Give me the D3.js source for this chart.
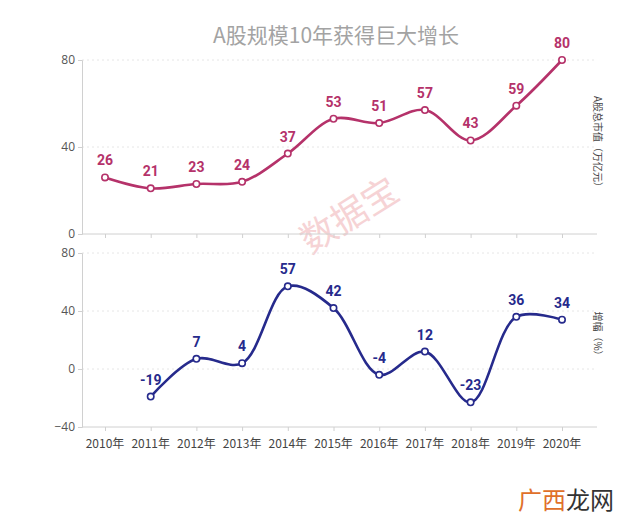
<!DOCTYPE html>
<html>
<head>
<meta charset="utf-8">
<script src="https://cdn.jsdelivr.net/npm/d3@7"></script>
<style>
  body { margin: 0; background: #fff; }
  svg { display: block; font-family: "Noto Sans CJK SC", "Noto Sans", sans-serif; }
</style>
</head>
<body>
<svg id="chart" width="640" height="527"></svg>
<script>
// data
const years = ["2010年", "2011年", "2012年", "2013年", "2014年", "2015年", "2016年", "2017年", "2018年", "2019年", "2020年"];
const marketCap = [26, 21, 23, 24, 37, 53, 51, 57, 43, 59, 80];
const growth = [null, -19, 7, 4, 57, 42, -4, 12, -23, 36, 34];
const topTicks = [0, 40, 80];
const bottomTicks = [-40, 0, 40, 80];

const svg = d3.select("#chart"),
  left = 82,
  right = 597;

const x = d3.scalePoint().domain(years).range([105, 562]);
const yTop = d3.scaleLinear().domain([0, 80]).range([234, 60]);
const yBot = d3.scaleLinear().domain([-40, 80]).range([427, 253]);

// title
svg.append("text")
  .attr("x", 336).attr("y", 43)
  .attr("text-anchor", "middle")
  .attr("fill", "#a3a3a3")
  .style("font-size", "21px")
  .text("A股规模10年获得巨大增长");

// watermark
svg.append("text")
  .attr("transform", "translate(356,226) rotate(-32)")
  .attr("text-anchor", "middle")
  .attr("fill", "#f6d3d5")
  .style("font-size", "36px")
  .text("数据宝");

function panel(yScale, ticks, values, color, label, labelY) {
  const g = svg.append("g");

  // dotted grid
  g.selectAll("line.grid")
    .data(ticks.slice(1))
    .enter().append("line")
    .attr("x1", left).attr("x2", right)
    .attr("y1", d => yScale(d)).attr("y2", d => yScale(d))
    .attr("stroke", "#e6e6e6")
    .attr("stroke-dasharray", "2,3");

  // y axis
  const yAxis = d3.axisLeft(yScale).tickValues(ticks).tickSize(4).tickPadding(3);
  g.append("g")
    .attr("transform", `translate(${left},0)`)
    .call(yAxis)
    .call(a => a.select(".domain").attr("stroke", "#d0d0d0"))
    .call(a => a.selectAll(".tick line").attr("stroke", "#d0d0d0"))
    .call(a => a.selectAll(".tick text")
      .attr("fill", "#555")
      .style("font-family", "'Open Sans', sans-serif")
      .style("font-size", "12px"));

  // x axis at bottom of panel
  const base = yScale.range()[0];
  g.append("g")
    .attr("transform", `translate(0,${base})`)
    .call(d3.axisBottom(x).tickSize(4).tickFormat(""))
    .call(a => a.select(".domain").attr("d", `M${left},0H${right}`).attr("stroke", "#d0d0d0"))
    .call(a => a.selectAll(".tick line").attr("stroke", "#d0d0d0"));

  const pts = years.map((yr, i) => ({ yr, v: values[i] })).filter(d => d.v !== null);

  const line = d3.line()
    .x(d => x(d.yr))
    .y(d => yScale(d.v))
    .curve(d3.curveCatmullRom.alpha(0.5));

  g.append("path")
    .datum(pts)
    .attr("d", line)
    .attr("fill", "none")
    .attr("stroke", color)
    .attr("stroke-width", 2.6);

  g.selectAll("circle")
    .data(pts)
    .enter().append("circle")
    .attr("cx", d => x(d.yr))
    .attr("cy", d => yScale(d.v))
    .attr("r", 3.2)
    .attr("fill", "#fff")
    .attr("stroke", color)
    .attr("stroke-width", 1.6);

  g.selectAll("text.val")
    .data(pts)
    .enter().append("text")
    .attr("class", "val")
    .attr("x", d => x(d.yr))
    .attr("y", d => yScale(d.v) - 12)
    .attr("text-anchor", "middle")
    .attr("fill", color)
    .style("font-family", "Roboto, sans-serif")
    .style("font-weight", "bold")
    .style("font-size", "14px")
    .text(d => d.v);

  // right side label, vertical
  svg.append("text")
    .attr("transform", `translate(594,${labelY}) rotate(90)`)
    .attr("text-anchor", "middle")
    .attr("fill", "#444")
    .style("font-size", "10px")
    .text(label);
}

panel(yTop, topTicks, marketCap, "#b5326a", "A股总市值（万亿元）", 144);
panel(yBot, bottomTicks, growth, "#262a8c", "增幅（%）", 336);

// year labels
svg.append("g")
  .selectAll("text")
  .data(years)
  .enter().append("text")
  .attr("x", d => x(d))
  .attr("y", 448)
  .attr("text-anchor", "middle")
  .attr("fill", "#444")
  .style("font-size", "12px")
  .text(d => d);

// site mark
const mark = svg.append("text")
  .attr("x", 566).attr("y", 509)
  .attr("text-anchor", "middle")
  .style("font-size", "24px");
mark.append("tspan").attr("fill", "#e0702a").text("广西");
mark.append("tspan").attr("fill", "#333").text("龙网");
</script>
</body>
</html>
